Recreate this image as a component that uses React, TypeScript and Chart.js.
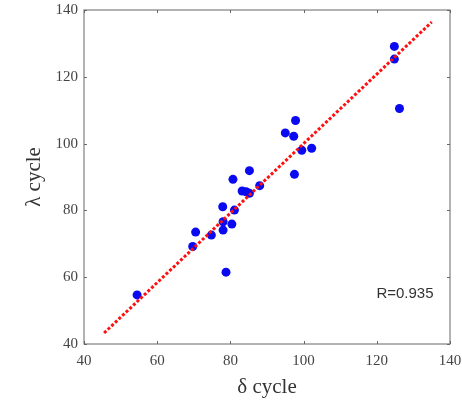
import React, { useEffect, useRef } from "react";
import { Chart, registerables } from "chart.js";

Chart.register(...registerables);

const deltaCycle = [54.5, 69.7, 70.5, 74.8, 77.9, 78.0, 78.0, 78.8, 80.4, 80.7, 81.1, 83.2, 84.3, 85.2, 85.2, 88.0, 95.0, 97.3, 97.8, 97.5, 99.5, 102.2, 124.8, 124.8, 126.2];
const lambdaCycle = [54.7, 69.2, 73.5, 72.6, 81.1, 76.6, 74.1, 61.5, 75.9, 89.3, 80.1, 85.8, 85.6, 85.1, 91.9, 87.4, 103.2, 102.2, 106.9, 90.8, 98.0, 98.6, 129.1, 125.3, 110.5];
const fitX = [45.5, 135];
const fitY = [43.3, 136.4];
const axisMin = 40;
const axisMax = 140;
const axisStep = 20;
const rLabel = "R=0.935";

const boxPlugin = {
  id: "boxTicks",
  afterDraw(chart: any) {
    const { ctx, chartArea: a, scales } = chart;
    ctx.save();
    ctx.strokeStyle = "#666";
    ctx.lineWidth = 1;
    ctx.strokeRect(a.left, a.top, a.right - a.left, a.bottom - a.top);
    const tl = 3;
    ctx.beginPath();
    scales.x.ticks.forEach((t: any) => {
      const px = Math.round(scales.x.getPixelForValue(t.value)) + 0.5;
      ctx.moveTo(px, a.bottom);
      ctx.lineTo(px, a.bottom - tl);
      ctx.moveTo(px, a.top);
      ctx.lineTo(px, a.top + tl);
    });
    scales.y.ticks.forEach((t: any) => {
      const py = Math.round(scales.y.getPixelForValue(t.value)) + 0.5;
      ctx.moveTo(a.left, py);
      ctx.lineTo(a.left + tl, py);
      ctx.moveTo(a.right, py);
      ctx.lineTo(a.right - tl, py);
    });
    ctx.stroke();
    ctx.fillStyle = "#333";
    ctx.font = "15px 'Liberation Sans', Arial, sans-serif";
    ctx.textAlign = "right";
    ctx.textBaseline = "middle";
    ctx.fillText(rLabel, scales.x.getPixelForValue(135.5), scales.y.getPixelForValue(55));
    ctx.restore();
  },
};

export default function App() {
  const ref = useRef<HTMLCanvasElement>(null);
  useEffect(() => {
    document.body.style.margin = "0";
    const chart = new Chart(ref.current!, {
      type: "scatter",
      data: {
        datasets: [
          {
            type: "line",
            data: fitX.map((x, i) => ({ x, y: fitY[i] })),
            borderColor: "#ff1010",
            borderWidth: 3,
            borderDash: [3, 2],
            pointRadius: 0,
            fill: false,
            order: 0,
          } as any,
          {
            data: deltaCycle.map((x, i) => ({ x, y: lambdaCycle[i] })),
            backgroundColor: "#0a0af0",
            borderColor: "#0a0af0",
            pointRadius: 4.5,
            borderWidth: 0,
            order: 1,
          },
        ],
      },
      options: {
        animation: false,
        responsive: false,
        layout: { padding: { top: 10, right: 12, left: 0, bottom: 0 } },
        plugins: { legend: { display: false }, tooltip: { enabled: false } },
        scales: {
          x: {
            type: "linear",
            min: axisMin,
            max: axisMax,
            afterFit: (s: any) => { s.height = 59; s.paddingLeft = 0; s.paddingRight = 0; },
            ticks: { stepSize: axisStep, padding: 8, color: "#444", font: { family: "'Liberation Serif', 'Times New Roman', serif", size: 15 } },
            grid: { display: false, drawTicks: false },
            border: { display: false },
            title: { display: true, text: "δ cycle", color: "#333", padding: { top: 0, bottom: 3 }, font: { family: "'Liberation Serif', 'Times New Roman', serif", size: 21 } },
          },
          y: {
            type: "linear",
            min: axisMin,
            max: axisMax,
            afterFit: (s: any) => { s.width = 84; s.paddingTop = 0; s.paddingBottom = 0; },
            ticks: { stepSize: axisStep, padding: 6, color: "#444", font: { family: "'Liberation Serif', 'Times New Roman', serif", size: 15 } },
            grid: { display: false, drawTicks: false },
            border: { display: false },
            title: { display: true, text: "λ cycle", color: "#333", padding: { top: 22, bottom: 0 }, font: { family: "'Liberation Serif', 'Times New Roman', serif", size: 21 } },
          },
        },
      },
      plugins: [boxPlugin],
    });
    return () => chart.destroy();
  }, []);
  return (
    <div style={{ width: 462, height: 403, background: "#fff" }}>
      <canvas ref={ref} width={462} height={403} style={{ display: "block" }} />
    </div>
  );
}
